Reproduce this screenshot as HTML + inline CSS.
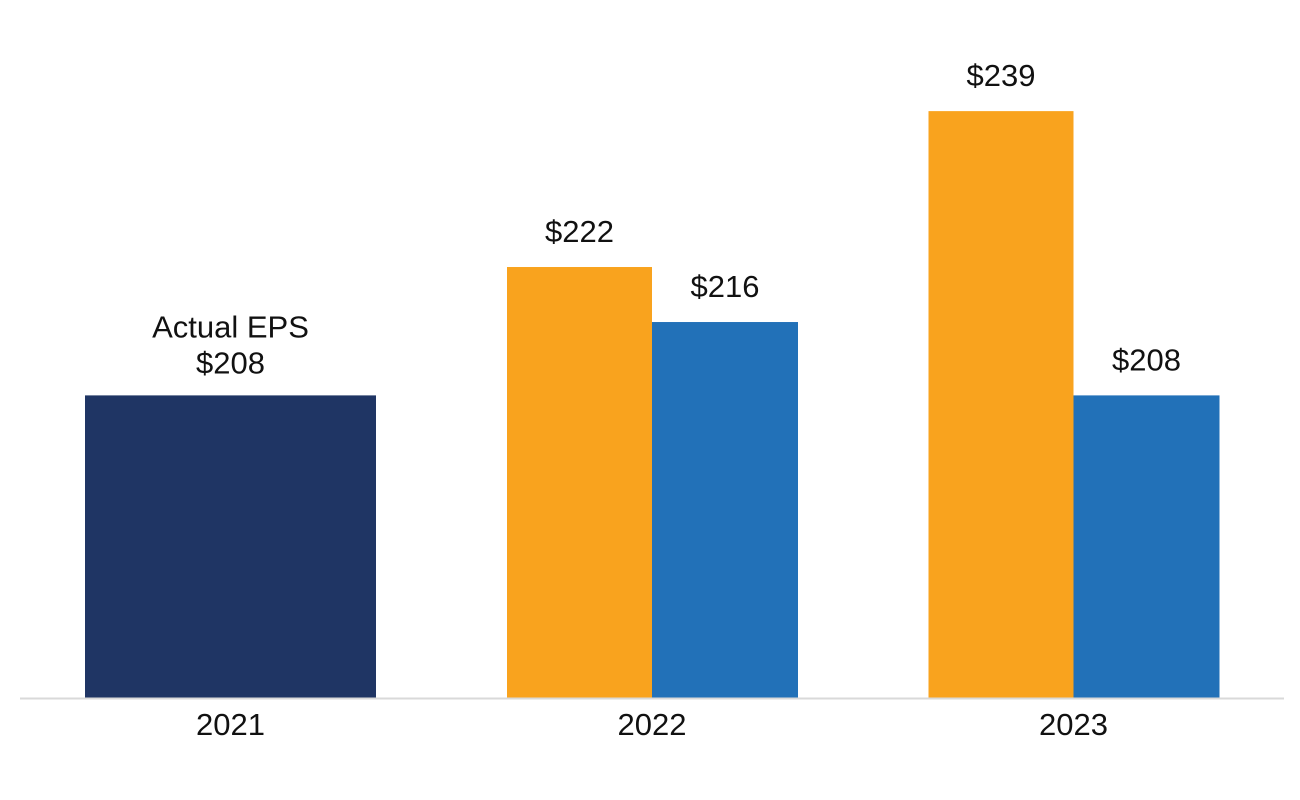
<!DOCTYPE html>
<html><head><meta charset="utf-8"><style>
html,body{margin:0;padding:0;background:#fff;}
svg{display:block;font-family:"Liberation Sans",sans-serif;}
</style></head><body>
<svg id="chart" width="1300" height="800" viewBox="0 0 1300 800"></svg>
<script>
const categories = ["2021", "2022", "2023"];
const actualValues = [208, null, null];
const seriesAValues = [null, 222, 239];
const seriesBValues = [null, 216, 208];
const valueLabels = ["$208", "$222", "$239", "$216", "$208"];

const svg = document.getElementById('chart');
const NS = 'http://www.w3.org/2000/svg';
const baseY = 698, yMin = 175, pxPerUnit = 9.17;
function yScale(v){ return baseY - (v - yMin) * pxPerUnit; }
const groupCenters = [230.5, 652, 1073.5];
function xCenter(i){ return groupCenters[i]; }

function rect(x,y,w,h,fill,name){
  const r=document.createElementNS(NS,'rect');
  r.setAttribute('x',x);r.setAttribute('y',y);r.setAttribute('width',w);r.setAttribute('height',h);r.setAttribute('fill',fill);
  
  
  svg.appendChild(r);
}
function text(x,y,s,name){
  const t=document.createElementNS(NS,'text');
  t.setAttribute('x',x);t.setAttribute('y',y);t.setAttribute('text-anchor','middle');
  t.setAttribute('font-size','31');t.setAttribute('fill','#111');
  t.textContent=s;
  
  
  svg.appendChild(t);
}

let li=0;
categories.forEach((c,i)=>{
  const cx=xCenter(i);
  if(actualValues[i]!=null){
    const y=yScale(actualValues[i]);
    rect(cx-145.5,y,291,baseY-y,'#1f3564','bar-actual-'+c);
    text(cx,y-58,'Actual EPS','actual-eps-label');
    text(cx,y-22,valueLabels[li++],'value-label-actual-'+c);
  }
});
categories.forEach((c,i)=>{
  const cx=xCenter(i);
  if(seriesAValues[i]!=null){
    const y=yScale(seriesAValues[i]);
    rect(cx-145,y,145,baseY-y,'#f9a31e','bar-orange-'+c);
    text(cx-72.5,y-25,valueLabels[li++],'value-label-orange-'+c);
  }
});
categories.forEach((c,i)=>{
  const cx=xCenter(i);
  if(seriesBValues[i]!=null){
    const y=yScale(seriesBValues[i]);
    rect(cx,y,146,baseY-y,'#2271b8','bar-blue-'+c);
    text(cx+73,y-25,valueLabels[li++],'value-label-blue-'+c);
  }
});

const ax=document.createElementNS(NS,'line');
ax.setAttribute('x1',20);ax.setAttribute('x2',1284);ax.setAttribute('y1',baseY+0.5);ax.setAttribute('y2',baseY+0.5);
ax.setAttribute('stroke','#d9d9d9');ax.setAttribute('stroke-width','2');


svg.appendChild(ax);

categories.forEach((c,i)=>{
  text(xCenter(i),735,c,'x-tick-label-'+c);
});
</script>
</body></html>
